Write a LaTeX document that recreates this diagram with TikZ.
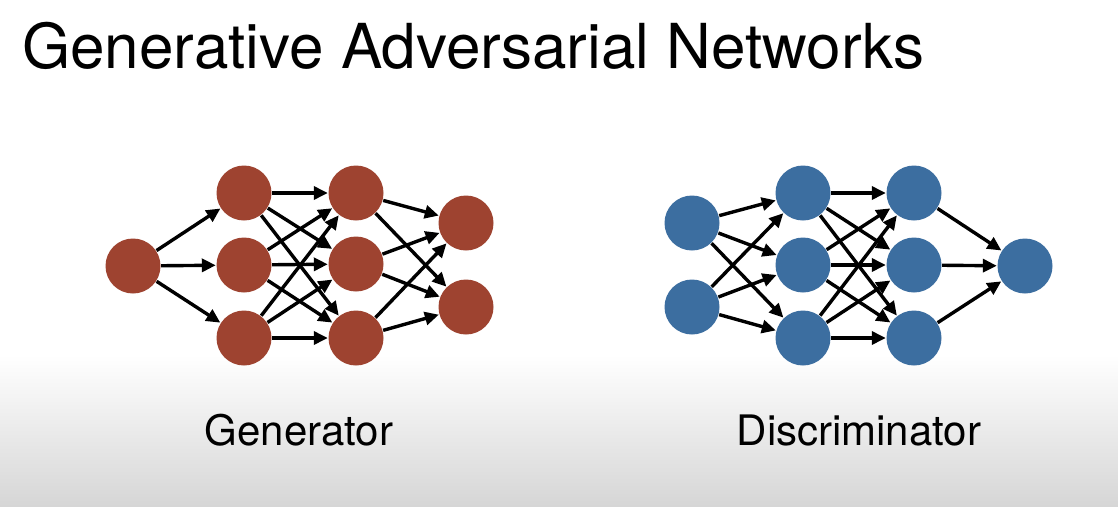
\documentclass[tikz,border=0pt]{standalone}
\usepackage{fontspec}
\setmainfont{TeX Gyre Heros}
\usetikzlibrary{arrows.meta}
\definecolor{genred}{HTML}{9E4330}
\definecolor{discblue}{HTML}{3C6EA0}
\definecolor{bgbottom}{HTML}{D6D6D6}
\tikzset{
  neuron/.style={circle, inner sep=0pt, minimum size=55pt},
  gen/.style={neuron, fill=genred},
  disc/.style={neuron, fill=discblue},
  conn/.style={line width=3.4pt, -{Triangle[length=14pt,width=13pt]}, shorten >=0.5pt, shorten <=0.5pt},
  title/.style={font=\fontsize{62}{70}\selectfont, inner sep=0pt},
  caption/.style={font=\fontsize{42}{50}\selectfont, inner sep=0pt}
}
\begin{document}
\begin{tikzpicture}[x=1pt,y=-1pt]
\useasboundingbox (0,0) rectangle (1118,506);
\fill[white] (0,0) rectangle (1118,506);
\shade[top color=white, bottom color=bgbottom] (0,355) rectangle (1118,506);

\node[title, anchor=base west] (t) at (22,68) {Generative Adversarial Networks};

% Generator
\node[gen] (g0) at (133,266) {};
\node[gen] (g1a) at (244,193) {};
\node[gen] (g1b) at (244,265) {};
\node[gen] (g1c) at (244,338) {};
\node[gen] (g2a) at (356,193) {};
\node[gen] (g2b) at (356,264) {};
\node[gen] (g2c) at (356,338) {};
\node[gen] (g3a) at (466,223) {};
\node[gen] (g3b) at (466,307) {};
\foreach \t in {g1a,g1b,g1c} \draw[conn] (g0) -- (\t);
\foreach \s in {g1a,g1b,g1c} \foreach \t in {g2a,g2b,g2c} \draw[conn] (\s) -- (\t);
\foreach \s in {g2a,g2b,g2c} \foreach \t in {g3a,g3b} \draw[conn] (\s) -- (\t);

% Discriminator
\node[disc] (d0a) at (692,223) {};
\node[disc] (d0b) at (692,307) {};
\node[disc] (d1a) at (803,193) {};
\node[disc] (d1b) at (803,265) {};
\node[disc] (d1c) at (803,338) {};
\node[disc] (d2a) at (914,193) {};
\node[disc] (d2b) at (914,265) {};
\node[disc] (d2c) at (914,338) {};
\node[disc] (d3) at (1025,266) {};
\foreach \s in {d0a,d0b} \foreach \t in {d1a,d1b,d1c} \draw[conn] (\s) -- (\t);
\foreach \s in {d1a,d1b,d1c} \foreach \t in {d2a,d2b,d2c} \draw[conn] (\s) -- (\t);
\foreach \s in {d2a,d2b,d2c} \draw[conn] (\s) -- (d3);

\node[caption, anchor=base] (gl) at (299,445) {Generator};
\node[caption, anchor=base] (dl) at (859,445) {Discriminator};
\end{tikzpicture}
\end{document}
